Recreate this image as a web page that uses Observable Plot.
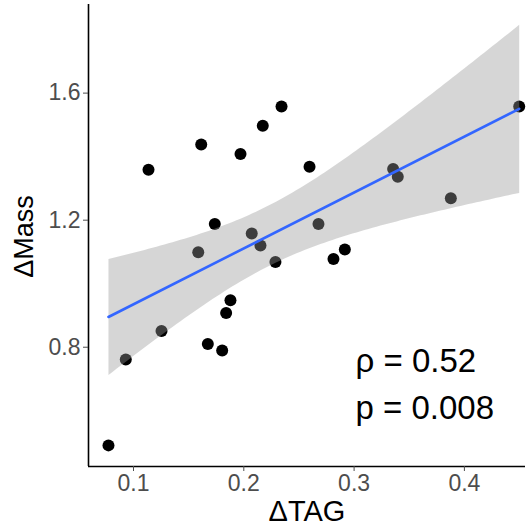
<!DOCTYPE html>
<html>
<head>
<meta charset="utf-8">
<script src="https://cdn.jsdelivr.net/npm/d3@7"></script>
<script src="https://cdn.jsdelivr.net/npm/@observablehq/plot@0.6"></script>
<style>
  html, body { margin: 0; padding: 0; background: #fff; }
  #chart { width: 530px; height: 531px; }
</style>
</head>
<body>
<div id="chart"></div>
<script>
// ΔTAG values (x)
const tag = [0.0773, 0.0930, 0.1136, 0.1254, 0.1587, 0.1614, 0.1674, 0.1737, 0.1804, 0.1840,
             0.1879, 0.1970, 0.2072, 0.2151, 0.2172, 0.2287, 0.2342, 0.2596, 0.2677, 0.2813,
             0.2916, 0.3354, 0.3396, 0.3877, 0.4497];
// ΔMass values (y)
const mass = [0.491, 0.761, 1.359, 0.851, 1.099, 1.438, 0.810, 1.188, 0.790, 0.908,
              0.948, 1.408, 1.158, 1.120, 1.497, 1.068, 1.558, 1.368, 1.188, 1.078,
              1.108, 1.361, 1.337, 1.269, 1.558];
const xTicks = [0.1, 0.2, 0.3, 0.4];
const yTicks = [0.8, 1.2, 1.6];
const statLines = ["ρ = 0.52", "p = 0.008"];

const data = tag.map((t, i) => ({tag: t, mass: mass[i]}));
const xDomain = [0.0592, 0.4554];
const yDomain = [0.4245, 1.879];

const font = "'Liberation Sans', Arial, Helvetica, sans-serif";

const chart = Plot.plot({
  width: 530,
  height: 531,
  marginLeft: 88,
  marginRight: 5,
  marginTop: 4,
  marginBottom: 65,
  style: {fontFamily: font, background: "#fff", overflow: "visible"},
  x: {domain: xDomain, ticks: xTicks, tickFormat: d3.format(".1f")},
  y: {domain: yDomain, ticks: yTicks, tickFormat: d3.format(".1f")},
  marks: [
    Plot.dot(data, {x: "tag", y: "mass", r: 6, fill: "#000", stroke: "none"}),
    Plot.linearRegressionY(data, {
      x: "tag", y: "mass",
      stroke: "#3366FF", strokeWidth: 2.6,
      fill: "#999999", fillOpacity: 0.4, ci: 0.95
    }),
    Plot.ruleX([xDomain[0]], {stroke: "#000", strokeWidth: 1.6}),
    Plot.ruleY([yDomain[0]], {stroke: "#000", strokeWidth: 1.6}),
    Plot.axisX({ticks: xTicks, tickFormat: d3.format(".1f"), tickSize: 5, tickPadding: 3,
      fontSize: 23, color: "#4d4d4d", label: null}),
    Plot.axisY({ticks: yTicks, tickFormat: d3.format(".1f"), tickSize: 5, tickPadding: 3,
      fontSize: 23, color: "#4d4d4d", label: null}),
    Plot.text(["ΔTAG"], {frameAnchor: "bottom", dy: 45, lineAnchor: "middle",
      fontSize: 29, fill: "#000"}),
    Plot.text(["ΔMass"], {frameAnchor: "left", dx: -64, dy: 1, rotate: -90,
      textAnchor: "middle", lineAnchor: "middle", fontSize: 27, fill: "#000"}),
    Plot.text([statLines[0]], {frameAnchor: "bottom-left", dx: 267, dy: -105, textAnchor: "start",
      lineAnchor: "middle", fontSize: 33, fill: "#000"}),
    Plot.text([statLines[1]], {frameAnchor: "bottom-left", dx: 267, dy: -58, textAnchor: "start",
      lineAnchor: "middle", fontSize: 33, fill: "#000"})
  ]
});
document.getElementById("chart").appendChild(chart);
</script>
</body>
</html>
